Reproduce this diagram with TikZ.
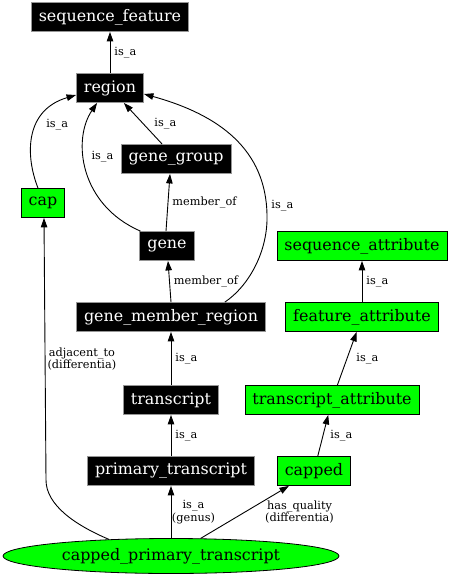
\documentclass[tikz,border=0pt]{standalone}
\usepackage{fontspec}
\setmainfont{DejaVu Serif}
\usetikzlibrary{arrows.meta, shapes.geometric}
\definecolor{termgreen}{RGB}{0,255,0}
\definecolor{termrim}{RGB}{150,150,150}

\begin{document}
\begin{tikzpicture}[x=1pt, y=-1pt, >={Triangle[length=9.5pt,width=6.5pt]},
  link/.style={->, line width=0.9pt},
  term/.style={rectangle, fill=black, draw=termrim, text=white, line width=0.8pt,
    minimum height=29pt, inner xsep=7.5pt, font=\fontsize{15.9}{18}\selectfont},
  attr/.style={term, fill=termgreen, draw=black, text=black},
  genus/.style={ellipse, fill=termgreen, draw=black, line width=0.8pt,
    minimum width=336pt, minimum height=35pt, inner sep=0pt, font=\fontsize{15.9}{18}\selectfont},
  lbl/.style={anchor=west, inner sep=0pt, align=center, font=\fontsize{11.3}{12.2}\selectfont}]
\useasboundingbox (0,0) rectangle (453,576);

% define the terms
  \node[term] (seqfeat)    at (110,17)  {sequence\_feature};
  \node[term] (region)     at (110,88)  {region};
  \node[term] (genegroup)  at (176,159) {gene\_group};
  \node[attr] (cap)        at (43,203)  {cap};
  \node[term] (gene)       at (167,246) {gene};
  \node[attr] (seqattr)    at (362,246) {sequence\_attribute};
  \node[term] (gmr)        at (171,317) {gene\_member\_region};
  \node[attr] (featattr)   at (362,317) {feature\_attribute};
  \node[term] (transcript) at (171,400) {transcript};
  \node[attr] (txattr)     at (332,400) {transcript\_attribute};
  \node[term] (primary)    at (171,471) {primary\_transcript};
  \node[attr] (capped)     at (314,471) {capped};
  \node[genus] (cpt)       at (171,556) {capped\_primary\_transcript};

% define the links
  \path[link] (region) edge node[lbl, xshift=4pt] {is\_a} (seqfeat)
    (genegroup) edge node[lbl, xshift=11pt] {is\_a} (region)
    ([xshift=-1pt]gene.north) edge node[lbl, xshift=4pt] {member\_of} ([xshift=-6pt]genegroup.south)
    (gmr.north) edge node[lbl, xshift=4pt] {member\_of} ([xshift=1pt]gene.south)
    (transcript) edge node[lbl, xshift=4pt] {is\_a} (gmr)
    (primary) edge node[lbl, xshift=4pt] {is\_a} (transcript)
    (cpt) edge node[lbl, xshift=0.5pt] {is\_a\\(genus)} (primary)
    (cpt) edge node[lbl, xshift=20pt] {has\_quality\\(differentia)} (capped)
    (capped) edge node[lbl, xshift=7pt] {is\_a} (txattr)
    (txattr) edge node[lbl, xshift=9pt] {is\_a} (featattr)
    (featattr) edge node[lbl, xshift=4pt] {is\_a} (seqattr);

  \draw[link] ([xshift=-5pt]cap.north) .. controls (25,155) and (25,110) .. ([yshift=-7pt]region.west)
    node[lbl, pos=0.6, xshift=9pt] {is\_a};
  \draw[link] ([xshift=1pt]gene.north west) .. controls (80,205) and (72,140) .. ([xshift=21pt]region.south west)
    node[lbl, pos=0.6, xshift=7pt] {is\_a};
  \draw[link] ([xshift=-41pt]gmr.north east) .. controls (250,285) and (268,250) .. (267,215)
    .. controls (266,150) and (220,115) .. ([yshift=-6pt]region.east)
    node[lbl, pos=0.05, xshift=4.5pt] {is\_a};
  \draw[link] (cpt.165) .. controls (75,525) and (46,505) .. (46,480) -- ([xshift=1pt]cap.south)
    node[lbl, pos=0.46, xshift=2pt] {adjacent\_to\\(differentia)};

\end{tikzpicture}
\end{document}
